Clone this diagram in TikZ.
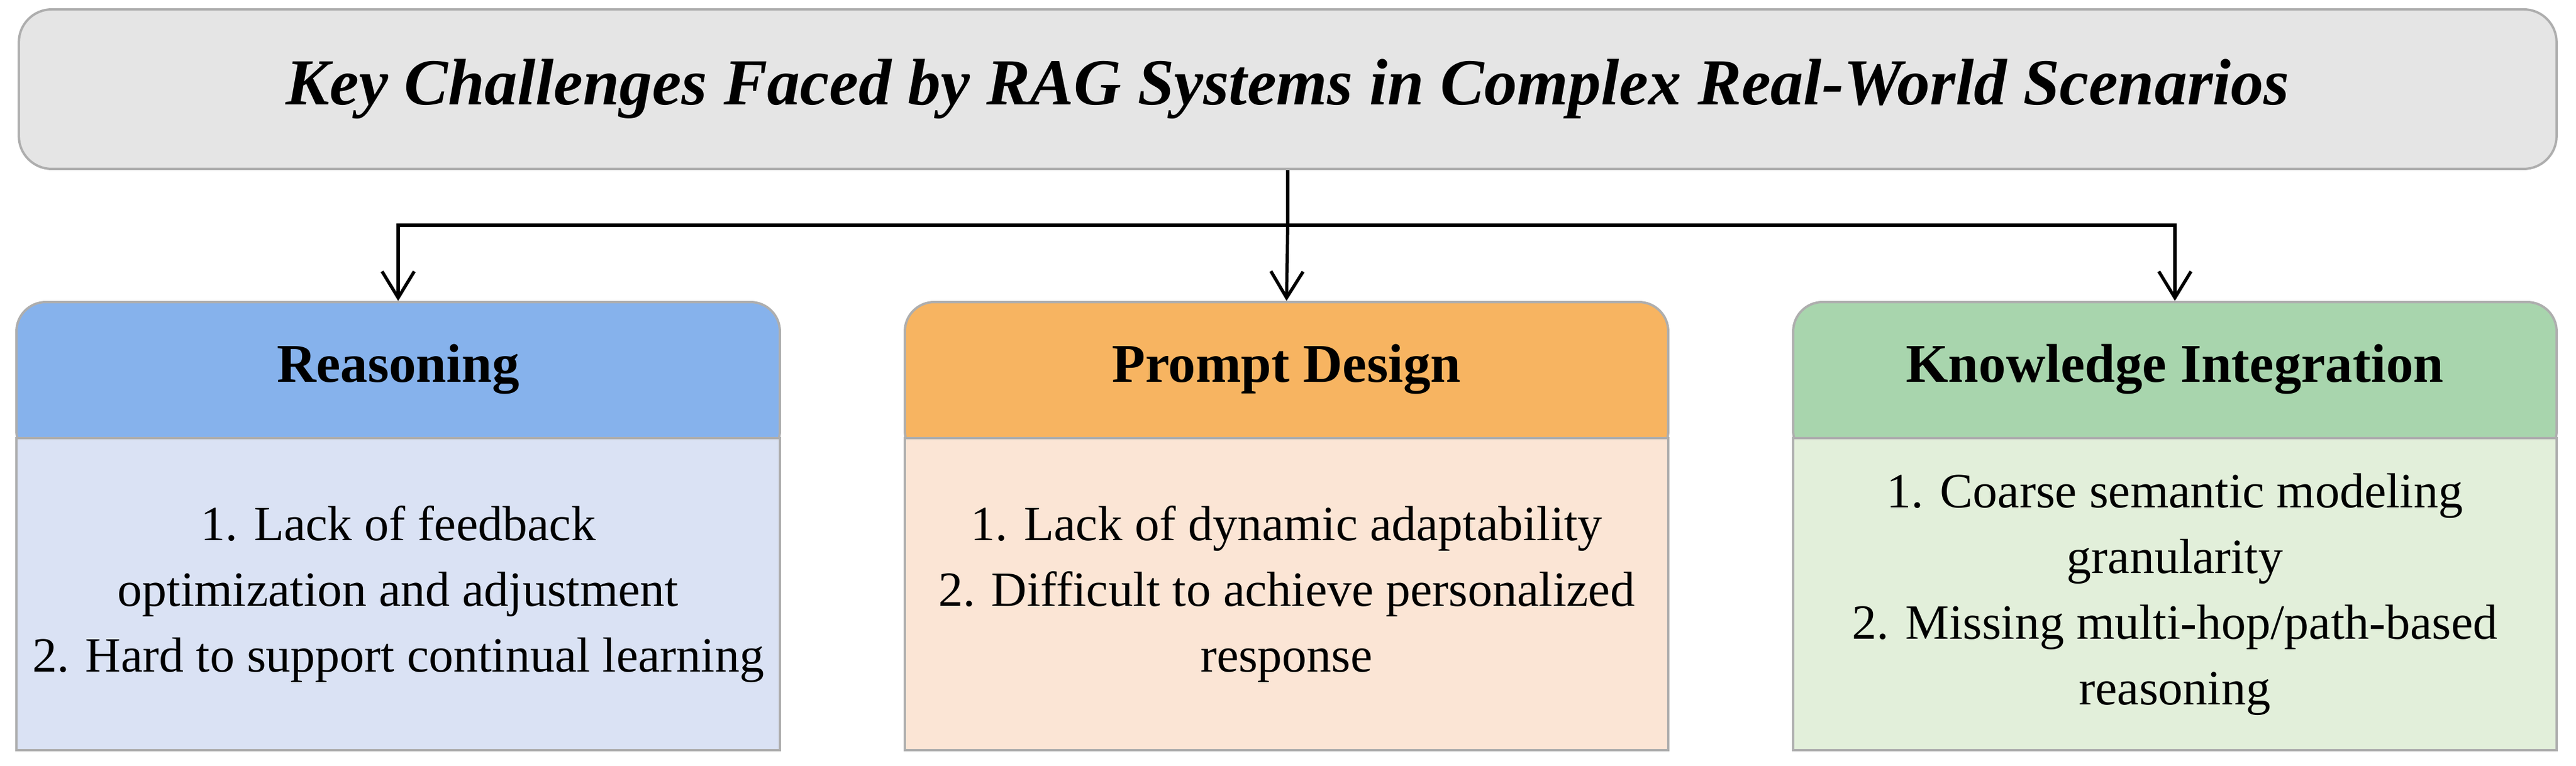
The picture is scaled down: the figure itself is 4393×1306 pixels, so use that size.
\documentclass[tikz,border=0pt]{standalone}
\usepackage{fontspec}
\setmainfont{Liberation Serif}
\usetikzlibrary{arrows.meta}
\definecolor{bordc}{HTML}{AEAEAE}
\begin{document}
\begin{tikzpicture}[x=0.1pt,y=-0.1pt,
  box/.style={draw=bordc,line width=0.4pt,inner sep=0pt},
  head/.style={box,rounded corners=5pt,minimum width=130.2pt,minimum height=27pt,anchor=north,font=\fontsize{9.3}{11}\selectfont\bfseries},
  body/.style={box,minimum width=130.2pt,minimum height=53.2pt,anchor=north,align=center,font=\fontsize{8.4}{11.2}\selectfont},
  arr/.style={line width=0.55pt,-{Straight Barb[length=4.5pt,width=5.5pt]}}]
\useasboundingbox (0,0) rectangle (4393,1306);
\node[box,rounded corners=5.6pt,fill=black!10,minimum width=432.8pt,minimum height=27.2pt,anchor=north,font=\fontsize{11.2}{13}\selectfont\bfseries\itshape] (top) at (2196,14) {Key Challenges Faced by RAG Systems in Complex Real-World Scenarios};
% headers (drawn taller, body overlays lower part)
\node[head,fill={rgb,255:red,134;green,178;blue,236}] (h1) at (679,513) {};
\node[head,fill={rgb,255:red,247;green,180;blue,97}] (h2) at (2194,513) {};
\node[head,fill={rgb,255:red,168;green,213;blue,173}] (h3) at (3709,513) {};
\node[font=\fontsize{9.3}{11}\selectfont\bfseries] (t1) at (679,629) {Reasoning};
\node[font=\fontsize{9.3}{11}\selectfont\bfseries] (t2) at (2194,629) {Prompt Design};
\node[font=\fontsize{9.3}{11}\selectfont\bfseries] (t3) at (3709,629) {Knowledge Integration};
\node[body,fill={rgb,255:red,218;green,226;blue,244}] (b1) at (679,745) {1. Lack of feedback\\optimization and adjustment\\2. Hard to support continual learning};
\node[body,fill={rgb,255:red,251;green,229;blue,213}] (b2) at (2194,745) {1. Lack of dynamic adaptability\\2. Difficult to achieve personalized\\response};
\node[body,fill={rgb,255:red,226;green,239;blue,218}] (b3) at (3709,745) {1. Coarse semantic modeling\\granularity\\2. Missing multi-hop/path-based\\reasoning};
\coordinate (j) at (2196,384);
\draw[line width=0.55pt] (top.south) -- (j);
\draw[arr] (j) -- (h2.north);
\draw[arr] (j) -| (h1.north);
\draw[arr] (j) -| (h3.north);
\end{tikzpicture}
\end{document}
